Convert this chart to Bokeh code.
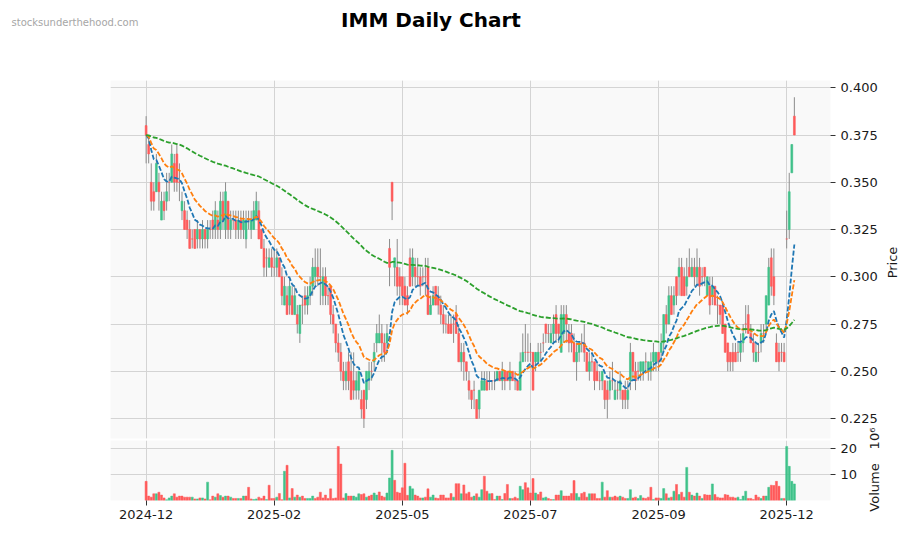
import math
import pandas as pd
from bokeh.plotting import figure
from bokeh.layouts import column, row
from bokeh.models import (ColumnDataSource, Range1d, FixedTicker, PrintfTickFormatter, Grid)
from bokeh.core.properties import value
from bokeh.embed import file_html
from bokeh.resources import INLINE

# ---------------- data ----------------
opens = [
    .380, .370, .350, .345, .345, .350, .330, .340, .340, .350,
    .350, .360, .365, .350, .335, .335, .330, .325, .320, .325,
    .320, .325, .320, .325, .320, .325, .330, .325, .330, .325,
    .340, .325, .340, .325, .330, .330, .325, .330, .325, .320,
    .330, .325, .325, .330, .335, .325, .315, .310, .305, .310,
    .305, .305, .310, .300, .285, .290, .285, .290, .280, .280,
    .270, .285, .290, .285, .290, .295, .300, .305, .300, .290,
    .300, .290, .295, .280, .275, .265, .260, .250, .245, .255,
    .250, .245, .240, .240, .235, .240, .235, .245, .250, .255,
    .265, .265, .270, .265, .265, .315, .350, .305, .305, .300,
    .300, .295, .290, .310, .300, .305, .300, .300, .300, .300,
    .305, .280, .285, .295, .290, .285, .280, .275, .275, .275,
    .275, .280, .270, .255, .260, .255, .245, .240, .240, .235,
    .230, .240, .240, .245, .245, .245, .245, .245, .250, .245,
    .250, .250, .245, .250, .245, .245, .240, .255, .260, .260,
    .260, .260, .255, .255, .260, .265, .275, .270, .265, .270,
    .280, .275, .260, .270, .280, .270, .270, .265, .255, .260,
    .265, .265, .260, .250, .255, .255, .250, .245, .245, .245,
    .240, .240, .245, .235, .240, .240, .240, .240, .235, .245,
    .260, .250, .250, .250, .250, .255, .250, .250, .255, .255,
    .260, .260, .265, .280, .275, .290, .285, .300, .300, .305,
    .300, .295, .305, .300, .305, .300, .305, .300, .305, .290,
    .295, .290, .295, .285, .285, .285, .275, .265, .260, .260,
    .260, .260, .260, .265, .275, .280, .270, .265, .255, .260,
    .265, .270, .275, .285, .310, .300, .265, .260, .260, .260,
    .320, .325, .355, .385,
]
highs = [
    .385, .375, .360, .350, .365, .355, .345, .345, .355, .355,
    .370, .365, .370, .360, .345, .340, .335, .330, .325, .325,
    .330, .325, .330, .325, .330, .330, .335, .340, .335, .345,
    .345, .350, .340, .335, .335, .335, .335, .335, .335, .335,
    .335, .335, .340, .345, .340, .325, .320, .315, .315, .315,
    .315, .315, .310, .305, .300, .295, .300, .295, .295, .285,
    .285, .290, .295, .295, .300, .310, .315, .315, .315, .305,
    .305, .295, .295, .285, .275, .270, .265, .255, .255, .260,
    .260, .260, .250, .250, .240, .240, .250, .255, .255, .265,
    .275, .280, .275, .270, .275, .320, .350, .310, .320, .305,
    .300, .300, .295, .315, .315, .310, .310, .305, .305, .310,
    .310, .290, .295, .295, .295, .290, .285, .280, .280, .280,
    .280, .285, .275, .265, .265, .255, .250, .240, .245, .235,
    .240, .250, .250, .250, .250, .245, .250, .250, .250, .255,
    .250, .250, .255, .250, .250, .245, .260, .270, .275, .270,
    .265, .260, .260, .265, .265, .270, .275, .275, .275, .280,
    .285, .275, .285, .285, .285, .275, .275, .270, .265, .265,
    .270, .275, .260, .260, .260, .255, .255, .250, .250, .245,
    .245, .250, .255, .245, .245, .250, .240, .245, .245, .265,
    .260, .255, .255, .255, .255, .260, .255, .260, .265, .260,
    .260, .270, .280, .285, .295, .295, .295, .300, .310, .310,
    .305, .310, .315, .310, .310, .315, .310, .305, .305, .300,
    .300, .300, .295, .290, .285, .285, .275, .265, .260, .265,
    .265, .265, .270, .275, .285, .285, .275, .270, .265, .265,
    .275, .275, .290, .310, .315, .315, .270, .265, .265, .265,
    .335, .355, .370, .395,
]
lows = [
    .360, .360, .335, .335, .345, .335, .330, .330, .335, .340,
    .350, .345, .345, .340, .330, .325, .320, .315, .315, .315,
    .315, .315, .315, .315, .315, .320, .320, .320, .320, .320,
    .325, .320, .320, .320, .325, .320, .320, .320, .320, .315,
    .325, .320, .325, .330, .320, .315, .300, .300, .305, .300,
    .300, .300, .300, .285, .285, .280, .280, .280, .280, .270,
    .265, .275, .280, .280, .285, .290, .295, .295, .285, .285,
    .285, .285, .275, .270, .260, .255, .245, .240, .240, .240,
    .235, .235, .235, .235, .225, .220, .230, .240, .245, .250,
    .260, .265, .255, .255, .260, .295, .330, .295, .290, .285,
    .285, .285, .280, .295, .295, .295, .295, .290, .295, .290,
    .280, .280, .285, .285, .280, .275, .270, .270, .270, .270,
    .265, .270, .255, .250, .245, .245, .235, .230, .230, .225,
    .225, .240, .240, .240, .240, .240, .240, .245, .245, .240,
    .240, .245, .240, .245, .240, .240, .240, .255, .255, .255,
    .255, .240, .250, .255, .255, .260, .265, .265, .265, .265,
    .265, .265, .260, .265, .265, .260, .260, .255, .245, .255,
    .260, .255, .250, .245, .250, .240, .245, .240, .240, .230,
    .225, .235, .240, .235, .235, .235, .230, .230, .230, .240,
    .245, .240, .245, .245, .245, .250, .245, .245, .250, .250,
    .250, .255, .260, .270, .275, .280, .280, .285, .290, .290,
    .290, .290, .300, .300, .295, .295, .290, .295, .295, .290,
    .280, .285, .285, .275, .275, .270, .260, .250, .250, .250,
    .255, .255, .255, .260, .270, .270, .265, .255, .255, .255,
    .260, .265, .270, .285, .290, .285, .255, .250, .255, .255,
    .315, .320, .355, .375,
]
closes = [
    .375, .365, .340, .340, .360, .345, .340, .335, .345, .350,
    .365, .350, .350, .350, .340, .325, .325, .315, .320, .315,
    .325, .320, .325, .320, .325, .325, .325, .335, .325, .340,
    .330, .345, .325, .330, .330, .325, .330, .325, .330, .330,
    .330, .330, .335, .340, .320, .315, .305, .310, .310, .305,
    .305, .310, .300, .290, .295, .280, .295, .280, .290, .275,
    .285, .285, .285, .290, .295, .305, .305, .300, .300, .300,
    .290, .290, .280, .275, .265, .260, .250, .245, .250, .245,
    .235, .240, .245, .250, .230, .225, .250, .250, .250, .260,
    .270, .270, .265, .260, .270, .305, .340, .310, .295, .295,
    .290, .285, .285, .295, .310, .300, .300, .295, .300, .300,
    .280, .285, .290, .285, .285, .280, .275, .275, .270, .270,
    .275, .270, .255, .260, .255, .250, .240, .235, .240, .225,
    .240, .245, .245, .240, .245, .245, .245, .250, .245, .250,
    .245, .245, .250, .245, .245, .240, .255, .260, .260, .260,
    .260, .240, .260, .260, .260, .265, .270, .270, .270, .275,
    .270, .270, .280, .280, .275, .265, .265, .255, .260, .265,
    .265, .260, .250, .255, .255, .245, .245, .245, .250, .235,
    .235, .245, .245, .240, .240, .245, .235, .235, .240, .260,
    .250, .245, .250, .255, .255, .255, .255, .255, .260, .260,
    .255, .265, .280, .275, .290, .280, .290, .290, .305, .290,
    .290, .300, .300, .305, .300, .305, .295, .300, .300, .300,
    .285, .295, .285, .285, .280, .270, .260, .255, .255, .255,
    .255, .260, .265, .270, .275, .270, .265, .260, .260, .260,
    .270, .270, .290, .305, .295, .290, .255, .255, .260, .255,
    .320, .345, .370, .375,
]
volumes = [  # millions of shares
    7.4, 1.7, 1.3, 2.6, 2.6, 3.2, 2.1, 1.0, 0.3, 1.0,
    1.7, 2.6, 1.3, 1.7, 1.7, 1.3, 1.3, 1.3, 1.3, 0.6,
    0.6, 1.0, 1.0, 0.6, 7.1, 0.3, 1.7, 1.3, 2.6, 1.9,
    1.3, 1.7, 1.7, 1.3, 0.8, 0.8, 0.8, 0.8, 1.7, 1.7,
    5.1, 0.6, 0.4, 0.6, 1.3, 0.8, 1.7, 0.4, 5.9, 0.8,
    0.8, 1.3, 2.7, 0.3, 11.3, 13.6, 1.0, 4.6, 1.3, 2.1,
    1.3, 1.7, 0.8, 0.8, 0.8, 1.7, 0.8, 1.3, 3.2, 1.0,
    2.1, 0.8, 4.5, 0.8, 1.0, 20.9, 14.1, 1.0, 2.7, 1.7,
    1.7, 1.7, 1.3, 2.6, 2.3, 2.6, 1.3, 1.7, 2.1, 2.9,
    2.1, 3.3, 1.7, 1.3, 2.9, 8.7, 19.4, 7.8, 3.2, 2.9,
    4.9, 14.4, 2.0, 5.5, 4.5, 2.1, 1.7, 1.0, 1.0, 1.3,
    4.5, 1.3, 2.1, 1.0, 0.8, 2.1, 2.1, 1.0, 1.0, 2.7,
    1.3, 6.5, 6.5, 2.6, 6.0, 2.6, 3.2, 1.3, 1.7, 2.6,
    1.3, 4.2, 9.4, 3.6, 2.6, 2.7, 0.4, 1.7, 1.7, 0.4,
    2.7, 6.2, 0.8, 0.8, 1.3, 0.8, 5.5, 4.2, 6.9, 4.9,
    2.9, 8.5, 2.9, 2.3, 3.3, 1.0, 1.3, 0.8, 0.4, 0.4,
    2.1, 2.1, 3.8, 1.7, 1.7, 1.7, 2.7, 7.7, 2.7, 1.3,
    2.7, 3.2, 1.3, 2.6, 2.6, 2.6, 0.8, 0.8, 7.1, 1.3,
    3.8, 1.3, 1.3, 1.7, 1.3, 1.7, 1.3, 0.8, 0.8, 4.2,
    1.0, 1.3, 0.8, 1.9, 1.0, 0.8, 1.3, 5.1, 0.4, 1.0,
    1.0, 0.8, 4.6, 2.6, 1.0, 1.3, 3.6, 6.2, 2.3, 3.2,
    1.3, 12.8, 3.2, 2.1, 1.7, 2.9, 1.7, 0.8, 2.3, 2.1,
    2.1, 6.4, 2.3, 1.3, 1.0, 1.0, 2.3, 2.1, 1.3, 1.3,
    1.0, 1.3, 0.4, 1.7, 3.6, 0.8, 0.8, 0.4, 2.1, 1.3,
    0.8, 1.7, 1.7, 5.1, 5.9, 5.8, 7.4, 5.5, 0.8, 0.8,
    20.9, 13.2, 7.4, 6.4,
]
tick_positions = [0, 50, 100, 150, 200, 250]
tick_labels = ["2024-12", "2025-02", "2025-05", "2025-07", "2025-09", "2025-12"]
price_ticks = [0.225, 0.250, 0.275, 0.300, 0.325, 0.350, 0.375, 0.400]
volume_ticks = [10, 20]
ma_spans = [10, 20, 120]
ma_colors = ["#1f77b4", "#ff7f0e", "#2ca02c"]

# ---------------- style ----------------
FONT = "DejaVu Sans"
BG = "#f9f9f9"
GRID = "#d4d4d4"
UP = "#3fc28a"
DOWN = "#ff5a5a"
WICK = "#8c8c8c"
TXT = "#1a1a1a"

n = len(closes)
xs = list(range(n))
body_top = [max(o, c) for o, c in zip(opens, closes)]
body_bot = [min(o, c) for o, c in zip(opens, closes)]
candle_col = [UP if c > o else DOWN for o, c in zip(opens, closes)]
prev_close = [opens[0]] + closes[:-1]
vol_col = [UP if c > pc else DOWN for pc, c in zip(prev_close, closes)]

src = ColumnDataSource(dict(x=xs, h=highs, l=lows, top=body_top, bot=body_bot,
                            col=candle_col, vol=volumes, vcol=vol_col))

cs = pd.Series(closes, dtype=float)
emas = [cs.ewm(span=s, adjust=False).mean().tolist() for s in ma_spans]

xr = Range1d(-13.9, 267.1)
FRAME_L, FRAME_W = 110, 720


def style_axis(ax):
    ax.major_label_text_font = FONT
    ax.major_label_text_font_size = "13px"
    ax.major_label_text_color = TXT
    ax.axis_line_color = None
    ax.major_tick_out = 5
    ax.major_tick_in = 0
    ax.major_tick_line_color = "#333333"
    ax.minor_tick_line_color = None


def text_strip(width, height, x0, y_top, transparent=False):
    """a blank figure whose data coordinates equal page pixels, for axis captions"""
    f = figure(width=width, height=height, x_range=Range1d(x0, x0 + width),
               y_range=Range1d(y_top + height, y_top), x_axis_location=None,
               y_axis_location=None, toolbar_location=None, output_backend="svg",
               min_border=0, outline_line_color=None,
               background_fill_color="white", border_fill_color="white")
    if transparent:
        f.background_fill_alpha = 0.0
        f.border_fill_alpha = 0.0
    f.grid.visible = False
    return f


# ---------------- header: watermark + title ----------------
hdr = text_strip(900, 80, 0, 0)
hdr.text(x=[11], y=[22], text=["stocksunderthehood.com"], text_font=value(FONT),
         text_font_size="10px", text_color="#a6a6a6", text_align="left",
         text_baseline="middle")
hdr.text(x=[430.5], y=[19.5], text=["IMM Daily Chart"], text_font=value(FONT),
         text_font_size="20px", text_font_style="bold", text_color="black",
         text_align="center", text_baseline="middle")

# ---------------- price panel ----------------
P_RIGHT = 52
p = figure(frame_width=FRAME_W, frame_height=358, x_range=xr,
           y_range=Range1d(0.21442, 0.40386), x_axis_location=None,
           y_axis_location="right", toolbar_location=None, output_backend="svg",
           min_border_left=FRAME_L, min_border_right=P_RIGHT, min_border_top=0,
           min_border_bottom=2, background_fill_color=BG,
           border_fill_color="white", outline_line_color=None)
p.yaxis.ticker = FixedTicker(ticks=price_ticks)
p.yaxis.formatter = PrintfTickFormatter(format="%.3f")
style_axis(p.yaxis[0])
p.yaxis.major_label_standoff = 5
p.ygrid.grid_line_color = GRID
p.add_layout(Grid(dimension=0, ticker=FixedTicker(ticks=tick_positions),
                  grid_line_color=GRID))

p.segment(x0="x", y0="h", x1="x", y1="l", source=src, line_color=WICK, line_width=1)
p.vbar(x="x", top="top", bottom="bot", width=0.72, source=src,
       fill_color="col", line_color="col", line_width=0.6)
for vals, col in zip(emas, ma_colors):
    p.line(xs, vals, line_color=col, line_width=1.8, line_dash="5 2")

p_x1 = FRAME_L + FRAME_W + P_RIGHT
side_p = text_strip(900 - p_x1, 360, p_x1, 80)
side_p.text(x=[892], y=[262], text=["Price"], text_font=value(FONT),
            text_font_size="13px", text_color=TXT, angle=math.pi / 2,
            text_align="center", text_baseline="middle")

# ---------------- volume panel ----------------
# the row reaches 24px up behind the price panel (transparent) so the rotated
# "Volume 10^6" caption can sit where the reference has it
V_TOP, V_RIGHT = 24, 30
v = figure(frame_width=FRAME_W, frame_height=60, x_range=xr, y_range=Range1d(0, 23.2),
           x_axis_location="below", y_axis_location="right", toolbar_location=None,
           output_backend="svg", min_border_left=FRAME_L, min_border_right=V_RIGHT,
           min_border_top=V_TOP, min_border_bottom=0, background_fill_color=BG,
           border_fill_color="white", border_fill_alpha=0.0, outline_line_color=None)
v.vbar(x="x", top="vol", bottom=0, width=0.8, source=src, fill_color="vcol",
       line_color="vcol", line_width=0.5)
v.yaxis.ticker = FixedTicker(ticks=volume_ticks)
v.yaxis.formatter = PrintfTickFormatter(format="%d")
style_axis(v.yaxis[0])
v.yaxis.major_label_standoff = 5
v.ygrid.grid_line_color = GRID
v.xgrid.grid_line_color = GRID
xa = v.xaxis[0]
xa.ticker = FixedTicker(ticks=tick_positions)
xa.major_label_overrides = {t: lab for t, lab in zip(tick_positions, tick_labels)}
style_axis(xa)
xa.major_label_standoff = 4

v_x1 = FRAME_L + FRAME_W + V_RIGHT
side_v = text_strip(900 - v_x1, 109, v_x1, 440 - V_TOP, transparent=True)
side_v.text(x=[874], y=[487], text=["Volume"], text_font=value(FONT),
            text_font_size="13px", text_color=TXT, angle=math.pi / 2,
            text_align="center", text_baseline="middle")
side_v.text(x=[874], y=[438], text=["10\u2076"], text_font=value(FONT),
            text_font_size="13px", text_color=TXT, angle=math.pi / 2,
            text_align="center", text_baseline="middle")

price_row = row(p, column(side_p), spacing=0)
volume_row = row(v, column(side_v), spacing=0)
volume_row.margin = (-V_TOP, 0, 0, 0)

layout = column(hdr, column(price_row, volume_row, spacing=0), spacing=0)
open("out.html", "w").write(file_html(layout, INLINE))
